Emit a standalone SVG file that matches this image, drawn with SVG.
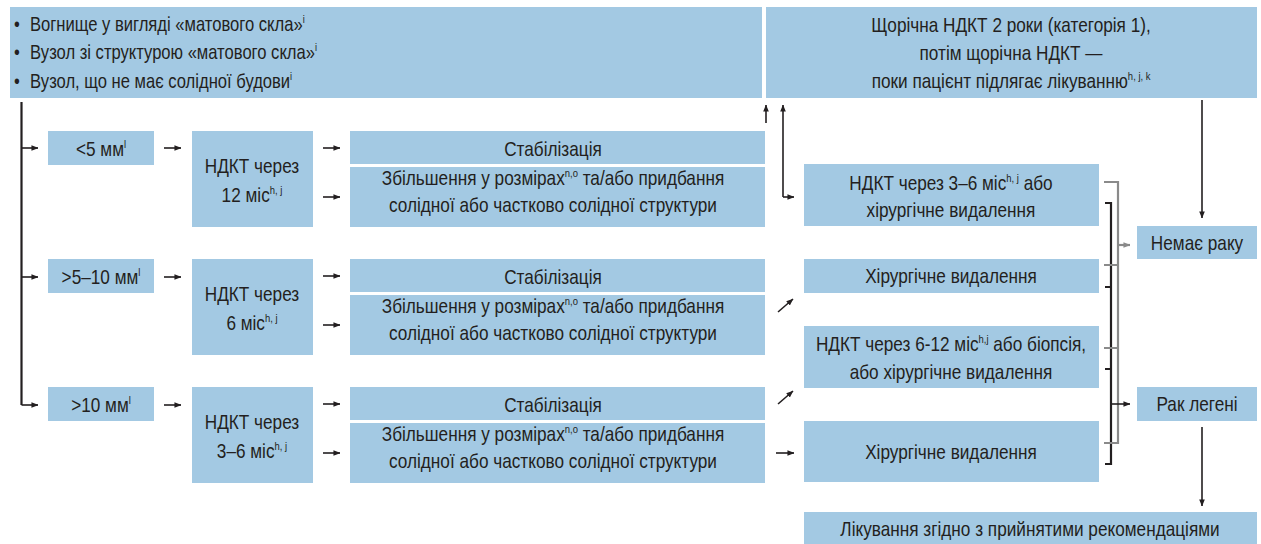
<svg xmlns="http://www.w3.org/2000/svg" width="1261" height="544" viewBox="0 0 1261 544">
<defs>
<style>
.b{fill:#a3c9e3}
text{font-family:"Liberation Sans",Arial,sans-serif;font-size:20px;fill:#231f20;transform-box:fill-box;transform:scaleX(0.86)}
.c{text-anchor:middle;transform-origin:center}
.l{transform-origin:left center;transform:scaleX(0.83)}
.s{font-size:11px}
.k{fill:none;stroke:#231f20;stroke-width:1.6}
.kk{fill:none;stroke:#231f20;stroke-width:2.2}
.g{fill:none;stroke:#8a8a8a;stroke-width:2.2}
.a{marker-end:url(#ah)}
</style>
<marker id="ah" viewBox="0 0 8 8" refX="7.5" refY="4" markerWidth="7" markerHeight="7" markerUnits="userSpaceOnUse" orient="auto-start-reverse"><path d="M0,0.8 L8,4 L0,7.2 z" fill="#231f20"/></marker>
<marker id="ag" viewBox="0 0 8 8" refX="7.5" refY="4" markerWidth="7" markerHeight="7" markerUnits="userSpaceOnUse" orient="auto"><path d="M0,0.8 L8,4 L0,7.2 z" fill="#8a8a8a"/></marker>
</defs>

<g id="ggo">
<rect class="b" x="10" y="7" width="752" height="91"/>
<text class="l" x="14" y="31">•</text><text class="l" x="30" y="31">Вогнище у вигляді «матового скла»<tspan class="s" dy="-8">i</tspan></text>
<text class="l" x="14" y="59">•</text><text class="l" x="30" y="59">Вузол зі структурою «матового скла»<tspan class="s" dy="-8">i</tspan></text>
<text class="l" x="14" y="88">•</text><text class="l" x="30" y="88">Вузол, що не має солідної будови<tspan class="s" dy="-8">i</tspan></text>
</g>
<g id="annual">
<rect class="b" x="766" y="7" width="491" height="91"/>
<text class="c" x="1011" y="32">Щорічна НДКТ 2 роки (категорія 1),</text>
<text class="c" x="1011" y="60">потім щорічна НДКТ —</text>
<text class="c" x="1011" y="88">поки пацієнт підлягає лікуванню<tspan class="s" dy="-8">h, j, k</tspan></text>
</g>

<g id="size1"><rect class="b" x="48" y="131" width="106" height="34"/><text class="c" x="101" y="156">&lt;5 мм<tspan class="s" dy="-8">l</tspan></text></g>
<g id="size2"><rect class="b" x="48" y="259" width="106" height="34"/><text class="c" x="101" y="284">&gt;5–10 мм<tspan class="s" dy="-8">l</tspan></text></g>
<g id="size3"><rect class="b" x="48" y="387" width="106" height="34"/><text class="c" x="101" y="412">&gt;10 мм<tspan class="s" dy="-8">l</tspan></text></g>

<g id="ct1"><rect class="b" x="192" y="131" width="121" height="96"/><text class="c" x="252" y="173">НДКТ через</text><text class="c" x="252" y="202">12 міс<tspan class="s" dy="-8">h, j</tspan></text></g>
<g id="ct2"><rect class="b" x="192" y="259" width="121" height="96"/><text class="c" x="252" y="301">НДКТ через</text><text class="c" x="252" y="330">6 міс<tspan class="s" dy="-8">h, j</tspan></text></g>
<g id="ct3"><rect class="b" x="192" y="387" width="121" height="96"/><text class="c" x="252" y="429">НДКТ через</text><text class="c" x="252" y="458">3–6 міс<tspan class="s" dy="-8">h, j</tspan></text></g>

<g id="stab1"><rect class="b" x="350" y="131" width="415" height="33"/><text class="c" x="553" y="156">Стабілізація</text></g>
<g id="grow1"><rect class="b" x="350" y="167" width="415" height="60"/><text class="c" x="553" y="185">Збільшення у розмірах<tspan class="s" dy="-8">n,o</tspan><tspan dy="8">  та/або придбання</tspan></text><text class="c" x="553" y="212">солідної або частково солідної структури</text></g>
<g id="stab2"><rect class="b" x="350" y="259" width="415" height="33"/><text class="c" x="553" y="284">Стабілізація</text></g>
<g id="grow2"><rect class="b" x="350" y="295" width="415" height="60"/><text class="c" x="553" y="313">Збільшення у розмірах<tspan class="s" dy="-8">n,o</tspan><tspan dy="8">  та/або придбання</tspan></text><text class="c" x="553" y="340">солідної або частково солідної структури</text></g>
<g id="stab3"><rect class="b" x="350" y="387" width="415" height="33"/><text class="c" x="553" y="412">Стабілізація</text></g>
<g id="grow3"><rect class="b" x="350" y="423" width="415" height="60"/><text class="c" x="553" y="441">Збільшення у розмірах<tspan class="s" dy="-8">n,o</tspan><tspan dy="8">  та/або придбання</tspan></text><text class="c" x="553" y="468">солідної або частково солідної структури</text></g>

<g id="r1"><rect class="b" x="804" y="164" width="295" height="62"/><text class="c" x="951" y="190">НДКТ через 3–6 міс<tspan class="s" dy="-8">h, j</tspan><tspan dy="8"> або</tspan></text><text class="c" x="951" y="217">хірургічне видалення</text></g>
<g id="r2"><rect class="b" x="804" y="259" width="295" height="34"/><text class="c" x="951" y="283">Хірургічне видалення</text></g>
<g id="r3"><rect class="b" x="804" y="326" width="295" height="62"/><text class="c" x="951" y="351">НДКТ через 6-12 міс<tspan class="s" dy="-8">h,j</tspan><tspan dy="8"> або біопсія,</tspan></text><text class="c" x="951" y="379">або хірургічне видалення</text></g>
<g id="r4"><rect class="b" x="804" y="421" width="295" height="61"/><text class="c" x="951" y="459">Хірургічне видалення</text></g>

<g id="nocancer"><rect class="b" x="1137" y="226" width="120" height="33"/><text class="c" x="1197" y="250">Немає раку</text></g>
<g id="cancer"><rect class="b" x="1137" y="387" width="120" height="34"/><text class="c" x="1197" y="411">Рак легені</text></g>
<g id="treat"><rect class="b" x="804" y="512" width="453" height="32"/><text class="c" x="1030" y="536">Лікування згідно з прийнятими рекомендаціями</text></g>

<g id="connectors">
<path class="kk" d="M21.5,102 V405"/>
<path class="k a" d="M21.5,148 H38"/>
<path class="k a" d="M21.5,277 H38"/>
<path class="k a" d="M21.5,405 H38"/>
<path class="k a" d="M164,148 H181"/>
<path class="k a" d="M164,277 H181"/>
<path class="k a" d="M164,405 H181"/>
<path class="k a" d="M323,148 H340"/>
<path class="k a" d="M323,197 H340"/>
<path class="k a" d="M323,276 H340"/>
<path class="k a" d="M323,325 H340"/>
<path class="k a" d="M323,404 H340"/>
<path class="k a" d="M323,453 H340"/>
<path class="k a" d="M766,123 V105"/>
<path class="k a" d="M783,197 V105"/>
<path class="k a" d="M783,197 H794"/>
<path class="k a" d="M778,312 L793,299"/>
<path class="k a" d="M778,404 L793,391"/>
<path class="k a" d="M776,453 H794"/>
<path class="k a" d="M1202,100 V218"/>
<path class="k a" d="M1202,427 V506"/>
<path class="kk" d="M1105,203 H1111 V464 H1105 M1105,287 H1111 M1105,369 H1111"/>
<path class="g" d="M1104,182 H1118 V443 H1104 M1104,265 H1118 M1104,348 H1118"/>
<path class="g" d="M1118,245 H1130" style="marker-end:url(#ag)"/>
<path class="k a" d="M1111,404 H1130"/>
</g>
</svg>
